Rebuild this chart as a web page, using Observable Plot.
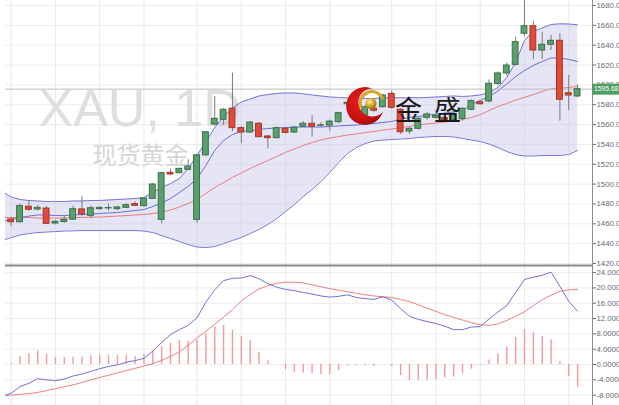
<!DOCTYPE html>
<html><head><meta charset="utf-8">
<script src="https://cdn.jsdelivr.net/npm/d3@7"></script>
<script src="https://cdn.jsdelivr.net/npm/@observablehq/plot@0.6"></script>
<style>
html,body{margin:0;padding:0;background:#fff;}
#wrap{position:relative;width:619px;height:405px;overflow:hidden;}
#wrap svg.plot{display:block;overflow:visible;background:transparent;}
#logo{position:absolute;left:0;top:0;pointer-events:none;}
</style></head><body>
<div id="wrap"></div>
<script>
// ---- candles (daily XAU) ----
const days = d3.range(0, 65);
const open  = [1464.3,1461.6,1477.2,1474.4,1475.4,1460.3,1461.8,1464.2,1474.5,1468,1474.8,1475.5,1474.8,1476.1,1479.8,1477.8,1485.2,1464,1511.4,1511,1514.4,1464,1529,1560,1564.8,1576,1556.4,1552,1560.8,1548,1546.3,1555.8,1552,1557.8,1560.8,1558.8,1559,1562.4,1580.5,1574,1569,1576,1577.5,1591,1574.9,1553,1555.7,1566.8,1566.8,1566.5,1564.5,1565.8,1574.9,1582.5,1583.3,1601,1611.5,1620.2,1651.5,1659.1,1634.6,1640.4,1644.4,1591.6,1588.3];
const high  = [1466.5,1480,1483.5,1478.5,1477.5,1463.5,1468,1478,1487.5,1478,1477,1480,1477.5,1480,1482,1486,1500.5,1512,1515,1516,1524.5,1530,1553,1588.3,1576,1611.8,1558,1563,1562,1549,1557.5,1557,1558,1563,1569,1562,1564.5,1572.5,1584,1581,1579,1578,1590.5,1594,1576,1557,1567,1572,1571,1568,1572.5,1577,1585,1584,1605,1613,1622,1648,1686,1664,1653,1650,1651.5,1609.5,1600];
const low   = [1457,1460.5,1472.5,1473,1459.5,1459,1460.5,1463.5,1467,1465,1473.5,1472.5,1473.5,1475.5,1477.5,1477,1484.5,1460,1509,1510.5,1513.5,1460.5,1528,1559,1559,1553,1540.6,1551,1546.5,1535.6,1545.5,1550.5,1551,1557,1547.3,1557.5,1553.3,1561,1578,1571,1567,1572,1576.5,1575,1550,1550,1554.5,1564.5,1565.5,1562.5,1563.5,1563.5,1574,1579.5,1582,1599,1609,1619,1649,1625.3,1625.3,1634.6,1563.4,1574.2,1587];
const close = [1461.6,1477.8,1474.2,1476.1,1460,1462,1464,1474.7,1469.5,1475.7,1476.1,1475.9,1476.5,1478.8,1478.2,1485.5,1499.6,1511,1509.7,1515.4,1517.7,1529,1552.3,1565.8,1574.9,1556.4,1552,1562,1547.3,1546.3,1556.4,1551.7,1556.8,1560.8,1557.8,1559.2,1563,1571.5,1582,1578,1577.5,1574,1589.3,1576.9,1552.3,1555.7,1565.8,1570.2,1569,1564.5,1570,1575.9,1583.6,1580.5,1601.1,1611.5,1619.5,1643,1659.1,1634.6,1640.4,1644.4,1585,1589.3,1595.68];

// ---- indicator lines (start one day before the first visible candle) ----
const lineDays = d3.range(-1, 65);
const bbUpper = [1492.5,1487.0,1484.5,1483.5,1483.0,1482.5,1482.5,1482.5,1483.0,1483.0,1483.5,1483.5,1484.0,1484.5,1485.0,1485.5,1486.5,1491.5,1496.6,1500.6,1505.6,1515.7,1528.8,1542.9,1557.0,1568.1,1576.7,1582.7,1585.8,1588.8,1590.3,1591.3,1591.8,1591.8,1591.0,1589.8,1588.8,1587.8,1587.3,1586.8,1586.3,1586.3,1586.3,1586.8,1587.0,1587.0,1587.0,1587.0,1587.3,1587.8,1588.3,1588.8,1588.3,1588.8,1589.8,1592.3,1597.4,1607.4,1622.5,1644.7,1653.8,1657.3,1660.8,1661.5,1661.3,1660.5];
const bbLower = [1443.2,1446.2,1448.7,1450.2,1451.2,1451.7,1452.2,1452.7,1452.9,1453.2,1453.2,1453.2,1453.2,1453.2,1453.2,1453.2,1452.7,1451.2,1448.2,1445.2,1442.2,1439.1,1436.6,1436.1,1437.1,1440.1,1443.2,1446.2,1450.2,1454.3,1459.3,1465.3,1472.4,1479.4,1487.5,1494.5,1502.6,1511.7,1521.8,1530.8,1536.9,1540.9,1543.4,1544.4,1544.9,1545.4,1546.0,1547.0,1547.5,1548.0,1548.0,1547.5,1546.0,1544.4,1542.9,1540.4,1536.9,1532.8,1529.8,1528.3,1528.3,1528.8,1528.8,1528.8,1529.8,1533.9];
const bbBasis = [1466.3,1466.3,1466.3,1466.3,1465.8,1465.8,1465.8,1465.8,1466.3,1466.3,1466.8,1466.8,1467.3,1467.8,1468.3,1468.9,1469.4,1470.4,1471.9,1473.9,1476.9,1480.5,1484.5,1490.5,1496.6,1501.6,1506.7,1511.2,1515.7,1519.8,1523.8,1527.8,1531.9,1535.4,1538.9,1541.9,1544.4,1546.4,1547.9,1549.5,1550.5,1552.0,1553.0,1554.5,1555.5,1557.0,1558.1,1559.6,1560.6,1561.6,1562.6,1563.6,1565.1,1567.1,1570.1,1574.1,1578.2,1581.2,1584.8,1587.3,1590.3,1593.3,1596.0,1596.3,1597.4,1598.4];
const maBlue  = [1462.3,1464.3,1466.3,1467.8,1468.9,1468.9,1468.3,1468.3,1468.9,1469.4,1469.9,1470.4,1470.9,1471.4,1472.4,1473.4,1474.4,1477.4,1481.0,1485.5,1491.5,1497.6,1505.6,1518.7,1533.9,1543.9,1550.0,1553.0,1554.0,1555.0,1556.0,1556.5,1557.0,1557.5,1557.5,1557.5,1557.5,1558.1,1558.6,1559.1,1559.6,1560.1,1561.1,1562.1,1563.1,1565.6,1567.1,1568.1,1569.1,1570.6,1571.6,1572.7,1574.2,1580.2,1584.3,1588.3,1593.8,1600.9,1608.4,1614.5,1619.5,1623.5,1627.1,1627.1,1625.6,1623.5];

// ---- MACD panel ----
const macdLine   = [-8.3,-7.5,-5.75,-4.9,-3.7,-4.0,-4.2,-3.8,-3.0,-2.5,-1.8,-1.1,-0.5,-0.1,0.6,1.0,1.65,3.5,5.8,7.8,9.1,10.2,12.2,16.3,19.5,21.9,22.5,22.6,23.2,22.4,21.1,20.2,19.6,19.3,18.8,18.4,17.9,17.6,17.8,18.2,17.5,17.2,17.0,17.7,16.8,14.6,12.6,11.8,11.2,10.7,10.0,9.1,9.1,9.8,9.9,11.9,13.7,15.4,18.8,22.2,22.8,23.3,24.1,20.4,16.5,13.9];
const signalLine = [-8.2,-8.0,-7.8,-7.6,-7.3,-6.8,-6.3,-5.8,-5.3,-4.7,-4.0,-3.4,-2.8,-2.2,-1.6,-1.0,-0.4,0.2,1.1,2.1,3.3,5.0,7.0,8.7,10.5,12.4,14.3,16.6,18.3,19.7,20.6,21.2,21.5,21.5,21.3,20.8,20.3,19.8,19.4,19.0,18.6,18.2,17.9,17.7,17.5,17.0,16.4,15.6,14.7,13.9,13.0,12.3,11.6,10.9,10.4,10.2,10.6,11.5,12.6,13.8,15.4,16.9,18.1,19.1,19.5,19.6];
const histogram  = [0.3,2.1,2.9,3.5,2.6,1.9,1.8,1.9,1.9,2.2,2.3,2.3,2.3,2.5,2.1,2.6,3.6,4.7,5.6,6.3,6.0,6.4,8.0,9.8,10.2,8.9,7.3,6.3,3.2,1.0,0,-1.4,-2.0,-2.2,-2.4,-2.6,-2.6,-1.6,-0.4,-0.3,-0.3,-0.5,0,-0.5,-2.9,-4.2,-4.1,-4.1,-4.0,-3.5,-3.3,-2.4,-1.2,-0.3,1.2,2.8,4.5,7.1,9.1,8.4,7.3,6.4,0.8,-3.1,-5.9];

// ---- axes / grid ----
const priceTicks  = [1420,1440,1460,1480,1500,1520,1540,1560,1580,1600,1620,1640,1660,1680];
const priceLabels = ["1420.0","1440.0","1460.0","1480.0","1500.0","1520.0","1540.0","1560.0","1580.0","1600.0","1620.0","1640.0","1660.0","1680.0"];
const macdTicks   = [-8,-4,0,4,8,12,16,20,24];
const macdLabels  = ["-8.0000","-4.0000","0.0000","4.0000","8.0000","12.000","16.000","20.000","24.000"];
const gridDays    = [0,5,10,15,21,26,31,36,43,48,53,58,63];
const symbolTitle = "XAU, 1D";
const symbolName  = "现货黄金";
const brandName   = "金盛";

const candles = days.map((d, i) => ({day: d, open: open[i], high: high[i], low: low[i], close: close[i]}));
const bands = lineDays.map((d, i) => ({day: d, upper: bbUpper[i], lower: bbLower[i], basis: bbBasis[i], ma: maBlue[i]}));
const macdRows = lineDays.map((d, i) => ({day: d, macd: macdLine[i], signal: signalLine[i]}));
const histRows = days.map((d, i) => ({day: d, hist: histogram[i]})).filter(d => d.hist !== 0);
const lastClose = close[close.length - 1];
const priceLabelMap = new Map(priceTicks.map((t, i) => [t, priceLabels[i]]));
const macdLabelMap = new Map(macdTicks.map((t, i) => [t, macdLabels[i]]));

const xDomain = [-0.644, 65.684];
const GREEN = "#5a9f6c", GREEN_D = "#3a7148", RED = "#e04a36", RED_D = "#a53425";
const font = "Liberation Sans, Arial, sans-serif";

const topChart = Plot.plot({
  width: 619, height: 265,
  marginLeft: 5, marginRight: 27, marginTop: 0, marginBottom: 0,
  style: {background: "transparent", overflow: "visible", fontFamily: font},
  x: {domain: xDomain, axis: null},
  y: {domain: [1418, 1685], axis: null},
  marks: [
    Plot.gridY(priceTicks, {stroke: "#ececec", strokeOpacity: 1}),
    Plot.gridX(gridDays, {stroke: "#e9e9e9", strokeOpacity: 1}),
    Plot.text([symbolTitle], {text: d => d, frameAnchor: "top-left", dx: 33, dy: 125, lineAnchor: "bottom", textAnchor: "start", fontSize: 52, fill: "#dedede", fontFamily: font}),
    Plot.text([symbolName], {text: d => d, frameAnchor: "top-left", dx: 87, dy: 163, lineAnchor: "bottom", textAnchor: "start", fontSize: 24, fill: "#d6d6d6", fontFamily: "Noto Sans CJK SC"}),
    Plot.areaY(bands, {x: "day", y1: "lower", y2: "upper", fill: "#c6c6ec", fillOpacity: 0.45, clip: true}),
    Plot.line(bands, {x: "day", y: "upper", stroke: "#7676dc", strokeWidth: 1, clip: true}),
    Plot.line(bands, {x: "day", y: "lower", stroke: "#7676dc", strokeWidth: 1, clip: true}),
    Plot.line(bands, {x: "day", y: "basis", stroke: "#ea7d7d", strokeWidth: 1, clip: true}),
    Plot.line(bands, {x: "day", y: "ma", stroke: "#6d6dda", strokeWidth: 1, clip: true}),
    Plot.ruleY([lastClose], {stroke: "#bdbdbd", strokeWidth: 1}),
    Plot.ruleX(candles, {x: "day", y1: "low", y2: "high", stroke: "#7a7a7a", strokeWidth: 1, clip: true}),
    Plot.rect(candles, {
      x1: d => d.day - 0.33, x2: d => d.day + 0.33, y1: "open", y2: "close",
      fill: d => d.close >= d.open ? GREEN : RED,
      stroke: d => d.close >= d.open ? GREEN_D : RED_D, strokeWidth: 1
    }),
    Plot.ruleX([xDomain[1]], {stroke: "#8c8c8c", strokeWidth: 1}),
    Plot.axisY(priceTicks, {anchor: "right", tickSize: 3, tickPadding: 1, fontSize: 7.8, color: "#6a6a6a", tickFormat: d => priceLabelMap.get(d), fontFamily: font}),
    Plot.ruleY([lastClose], {x1: xDomain[1], x2: xDomain[1] + 3.1, stroke: "#4f9c64", strokeWidth: 11}),
    Plot.text([lastClose], {x: xDomain[1], y: d => d, text: d => d.toFixed(2), textAnchor: "start", dx: 1.5, fill: "#ffffff", fontSize: 6.8, fontFamily: font})
  ]
});

const bottomChart = Plot.plot({
  width: 619, height: 140,
  marginLeft: 5, marginRight: 27, marginTop: 0, marginBottom: 0,
  style: {background: "transparent", overflow: "visible", fontFamily: font},
  x: {domain: xDomain, axis: null},
  y: {domain: [-10.7, 25.85], axis: null},
  marks: [
    Plot.gridY(macdTicks, {stroke: "#ececec", strokeOpacity: 1}),
    Plot.gridX(gridDays, {stroke: "#e9e9e9", strokeOpacity: 1}),
    Plot.ruleX(histRows, {x: "day", y1: 0, y2: "hist", stroke: "#f29a9a", strokeWidth: 1.4}),
    Plot.line(macdRows, {x: "day", y: "signal", stroke: "#ef8080", strokeWidth: 1, clip: true}),
    Plot.line(macdRows, {x: "day", y: "macd", stroke: "#7070de", strokeWidth: 1, clip: true}),
    Plot.ruleY([25.85], {stroke: "#8a8a8a", strokeWidth: 2}),
    Plot.ruleX([xDomain[1]], {stroke: "#8c8c8c", strokeWidth: 1}),
    Plot.axisY(macdTicks, {anchor: "right", tickSize: 3, tickPadding: 1, fontSize: 7.8, color: "#6a6a6a", tickFormat: d => macdLabelMap.get(d), fontFamily: font})
  ]
});

const wrap = document.getElementById("wrap");
wrap.appendChild(topChart);
wrap.appendChild(bottomChart);

// brand logo overlay (decoration)
const logo = `<svg id="logo" width="619" height="405" xmlns="http://www.w3.org/2000/svg">
<defs>
 <radialGradient id="ballG" cx="38%" cy="35%" r="70%"><stop offset="0" stop-color="#fff4b8"/><stop offset="0.45" stop-color="#e2b22a"/><stop offset="1" stop-color="#9a6c0c"/></radialGradient>
 <radialGradient id="redG" cx="40%" cy="40%" r="70%"><stop offset="0" stop-color="#e82020"/><stop offset="0.7" stop-color="#c41010"/><stop offset="1" stop-color="#8e0606"/></radialGradient>
 <mask id="cm" maskUnits="userSpaceOnUse" x="330" y="70" width="80" height="80">
  <circle cx="365" cy="106" r="19" fill="white"/><circle cx="372.5" cy="102.5" r="14" fill="black"/>
 </mask>
</defs>
<circle cx="365" cy="106" r="19" fill="url(#redG)" mask="url(#cm)"/>
<path d="M361 108 A11.5 11.5 0 1 1 383 99" fill="none" stroke="#d8a526" stroke-width="3"/>
<circle cx="371" cy="103.5" r="5.5" fill="url(#ballG)"/>
<text x="395" y="119.5" font-size="27" letter-spacing="12" fill="#1a1a1a" font-family="Noto Sans CJK SC">${brandName}</text>
</svg>`;
wrap.insertAdjacentHTML("beforeend", logo);
</script>
</body></html>
